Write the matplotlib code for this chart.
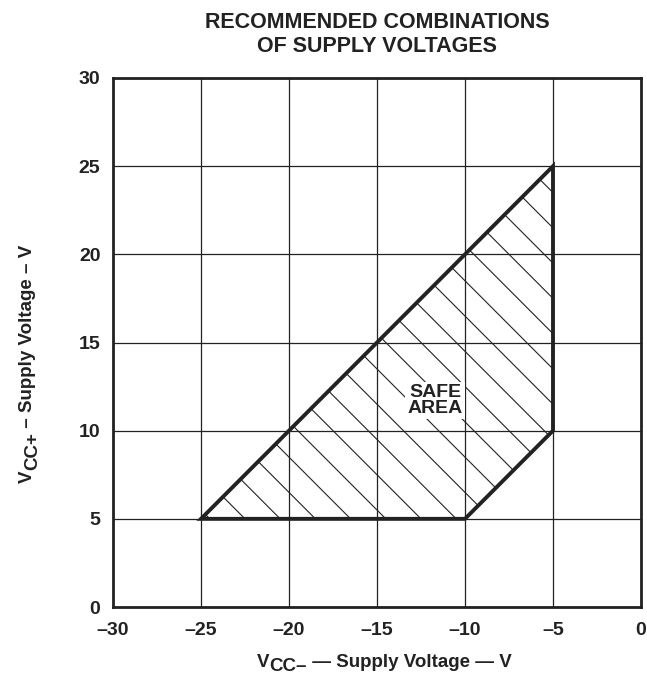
import matplotlib
matplotlib.use("Agg")
import matplotlib.pyplot as plt
import numpy as np
from matplotlib.patches import Polygon

plt.rcParams.update({
    "font.family": ["Liberation Sans", "DejaVu Sans"],
    "font.weight": "bold",
})

INK = "#222222"

# safe area corners (VCC-, VCC+)
vcc_minus = [-25, -10, -5, -5]
vcc_plus = [5, 5, 10, 25]

x_ticks = [-30, -25, -20, -15, -10, -5, 0]
y_ticks = [0, 5, 10, 15, 20, 25, 30]

fig = plt.figure(figsize=(6.47, 6.77), dpi=100)
ax = fig.add_axes([113 / 647, 1 - 607 / 677, 528 / 647, 529 / 677])
ax.set_xlim(-30, 0)
ax.set_ylim(0, 30)
ax.set_xticks(x_ticks)
ax.set_yticks(y_ticks)
ax.set_xticklabels([str(t).replace("-", "\u2013") for t in x_ticks], fontsize=14, fontweight="bold", color=INK)
ax.set_yticklabels([str(t) for t in y_ticks], fontsize=14, fontweight="bold", color=INK)
ax.tick_params(axis="x", length=0, pad=11)
ax.tick_params(axis="y", length=0, pad=9)
ax.grid(True, color=INK, linewidth=0.9)
for s in ax.spines.values():
    s.set_linewidth(2.0)
    s.set_color(INK)

poly = Polygon(list(zip(vcc_minus, vcc_plus)), closed=True, fill=False,
               edgecolor=INK, linewidth=2.8, zorder=4, joinstyle="miter")
ax.add_patch(poly)

# hatch lines x + y = c, clipped to the polygon
clip = Polygon(list(zip(vcc_minus, vcc_plus)), closed=True, transform=ax.transData)
for c in np.arange(-19.5, 20, 2.0):
    xs = np.array([-30, 0])
    ln, = ax.plot(xs, c - xs, color=INK, linewidth=0.8, zorder=3)
    ln.set_clip_path(clip)

ax.text(-11.7, 11.7, "SAFE\nAREA", ha="center", va="center", fontsize=14,
        fontweight="bold", linespacing=0.9, color=INK, zorder=5,
        bbox=dict(facecolor="white", edgecolor="none", pad=1.5))

# x label: V with lowered CC- subscript
fs = 13.5
v = fig.text(257 / 647, 1 - 667 / 677, "V", ha="left", va="baseline", fontsize=fs, color=INK)
sub = ax.annotate("CC\u2013", xy=(1, 0), xycoords=v, xytext=(0, -4), textcoords="offset pixels",
                  ha="left", va="bottom", fontsize=fs, color=INK, annotation_clip=False)
ax.annotate(" \u2014 Supply Voltage \u2014 V", xy=(1, 0), xycoords=sub, xytext=(0, 4),
            textcoords="offset pixels", ha="left", va="bottom", fontsize=fs, color=INK,
            annotation_clip=False)

# y label: rotated, subscript shifted towards the axis
vy = fig.text(36 / 647, 1 - 483 / 677, "V", ha="right", va="bottom", rotation=90,
              fontsize=fs, color=INK)
suby = ax.annotate("CC+", xy=(1, 1), xycoords=vy, xytext=(5, 0), textcoords="offset pixels",
                   ha="right", va="bottom", rotation=90, fontsize=fs, color=INK, annotation_clip=False)
ax.annotate(" \u2013 Supply Voltage \u2013 V", xy=(1, 1), xycoords=suby, xytext=(-5, 0),
            textcoords="offset pixels", ha="right", va="bottom", rotation=90, fontsize=fs,
            color=INK, annotation_clip=False)

fig.text(0.583, 0.949, "RECOMMENDED COMBINATIONS\nOF SUPPLY VOLTAGES", ha="center",
         va="center", fontsize=15.5, fontweight="bold", linespacing=1.15, color=INK)

fig.savefig("out.png", dpi=100)
